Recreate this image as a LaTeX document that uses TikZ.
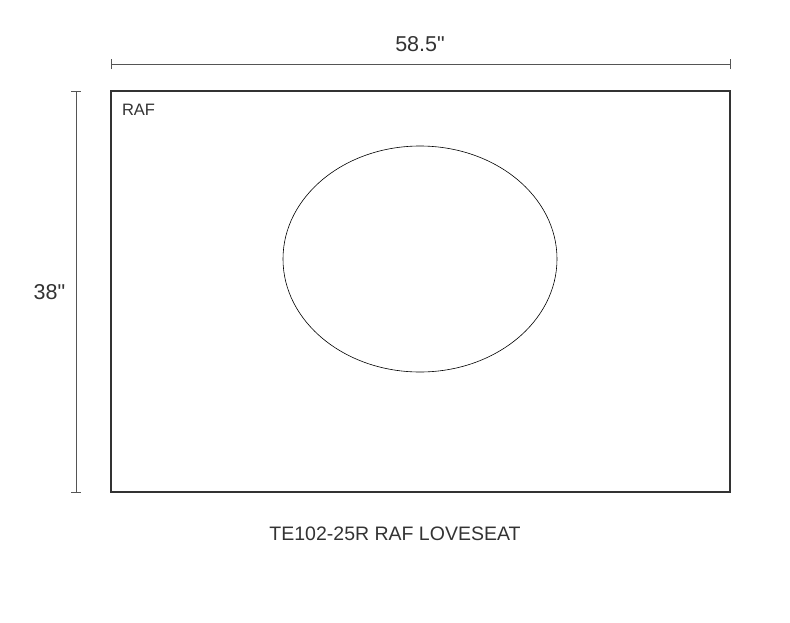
\documentclass[tikz,border=0pt]{standalone}
\usepackage{fontspec}
\setmainfont{Liberation Sans}[Ligatures=TeXOff]
\usepackage{tikz}
\definecolor{ink}{HTML}{333333}
\definecolor{dimgray}{HTML}{555555}
\tikzset{
  dimline/.style={draw=dimgray, line width=1pt},
  dimtick/.style={draw=dimgray, line width=1pt},
  dimlabel/.style={text=ink, font=\fontsize{21.5}{21.5}\selectfont, inner sep=0pt}
}
\begin{document}
\begin{tikzpicture}[x=1pt, y=-1pt]
        \useasboundingbox (0,0) rectangle (790,622);
        % seat outline
        \draw[ink, line width=2pt] (111,91) rectangle (730,492);
        \node[text=ink, font=\fontsize{16.5}{16.5}\selectfont, inner sep=0pt] (side) at (138.5,110) {RAF};
        \draw[black, line width=0.6pt] (420,259) ellipse (137 and 113);
        % width
        \coordinate (wl) at (111,64);
        \coordinate (wr) at (730,64);
        \draw[dimline] (wl) -- (wr);
        \draw[dimtick] ([yshift=-5]wl) -- ([yshift=5]wl);
        \draw[dimtick] ([yshift=-5]wr) -- ([yshift=5]wr);
        \node[dimlabel] (width) at (420,44) {58.5"};
        % depth
        \coordinate (dt) at (76,91);
        \coordinate (db) at (76,492);
        \draw[dimline] (dt) -- (db);
        \draw[dimtick] ([xshift=-5]dt) -- ([xshift=5]dt);
        \draw[dimtick] ([xshift=-5]db) -- ([xshift=5]db);
        \node[dimlabel] (depth) at (49.5,292) {38"};
        \node[text=ink, font=\fontsize{19.5}{19.5}\selectfont, inner sep=0pt] (title) at (395,534) {TE102-25R RAF LOVESEAT};
    \end{tikzpicture}
\end{document}
